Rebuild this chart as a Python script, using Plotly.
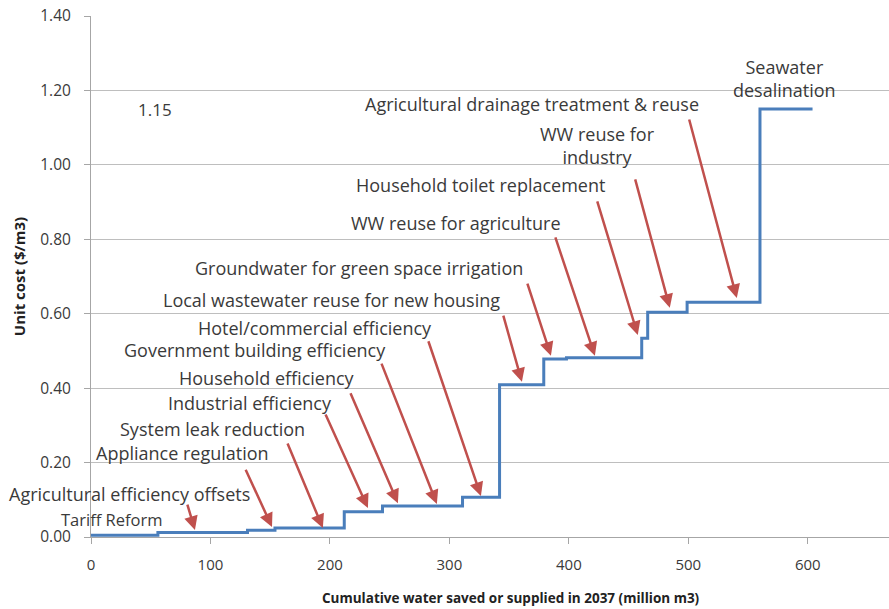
import plotly.graph_objects as go

# Step curve: start of each measure (cumulative million m3) and its unit cost ($/m3)
cum_start = [0, 56, 131, 154, 212, 244, 311, 342, 379, 398, 461, 466, 499, 560, 604]
unit_cost = [0.005, 0.012, 0.018, 0.024, 0.068, 0.083, 0.107, 0.409, 0.478, 0.482, 0.534, 0.604, 0.631, 1.15, 1.15]

x_ticks = [0, 100, 200, 300, 400, 500, 600]
y_ticks = [0.0, 0.2, 0.4, 0.6, 0.8, 1.0, 1.2, 1.4]

# Labels: text, x, y (data units)
label_text = ["Seawater<br>desalination", "1.15", "Agricultural drainage treatment & reuse",
              "WW reuse for<br>industry", "Household toilet replacement", "WW reuse for agriculture",
              "Groundwater for green space irrigation", "Local wastewater reuse for new housing",
              "Hotel/commercial efficiency", "Government building efficiency", "Household efficiency",
              "Industrial efficiency", "System leak reduction", "Appliance regulation",
              "Agricultural efficiency offsets", "Tariff Reform"]
label_x = [580.8, 37.7, 369.0, 424.3, 326.4, 305.4, 224.3, 201.7, 187.4, 137.2, 147.3, 133.1, 101.3, 76.2, 32.0, 17.5]
label_y = [1.231, 1.148, 1.164, 1.051, 0.946, 0.844, 0.723, 0.637, 0.562, 0.503, 0.427, 0.360, 0.290, 0.226, 0.116, 0.048]

# Arrows: tail (x, y) -> head (x, y), data units
arrow_tail_x = [80.3, 128.9, 164.0, 195.8, 216.7, 242.7, 282.0, 344.8, 364.9, 388.3, 423.4, 455.2, 500.4]
arrow_tail_y = [0.091, 0.185, 0.255, 0.333, 0.390, 0.470, 0.530, 0.599, 0.685, 0.809, 0.906, 0.965, 1.126]
arrow_head_x = [87.0, 151.5, 194.1, 231.8, 256.9, 289.5, 326.4, 360.7, 385.0, 421.8, 457.7, 484.5, 540.6]
arrow_head_y = [0.019, 0.027, 0.024, 0.078, 0.091, 0.089, 0.110, 0.417, 0.487, 0.487, 0.543, 0.616, 0.642]

x_title = "Cumulative water saved or supplied in 2037 (million m3)"
y_title = "Unit cost ($/m3)"

FONT = "'Open Sans', sans-serif"
TXT = "#3a3a3a"

fig = go.Figure()
fig.add_trace(go.Scatter(
    x=cum_start, y=unit_cost, mode="lines", line_shape="hv",
    line=dict(color="#4A7EBB", width=3), hoverinfo="x+y", showlegend=False,
))

annotations = []
for t, x, y in zip(label_text, label_x, label_y):
    size = 18
    if t == "1.15":
        size = 17
    elif t == "Tariff Reform":
        size = 16.5
    annotations.append(dict(
        text=t, x=x, y=y, xref="x", yref="y", showarrow=False,
        xanchor="left" if t == "1.15" else "center", yanchor="middle",
        font=dict(family=FONT, size=size, color=TXT),
    ))
for tx, ty, hx, hy in zip(arrow_tail_x, arrow_tail_y, arrow_head_x, arrow_head_y):
    annotations.append(dict(
        text="", x=hx, y=hy, xref="x", yref="y", ax=tx, ay=ty, axref="x", ayref="y",
        showarrow=True, arrowhead=2, arrowsize=1.1, arrowwidth=2.5, arrowcolor="#C0504D",
        standoff=0,
    ))
# x-axis title (centred on the original, wider plot area)
annotations.append(dict(
    text=f"<b>{x_title}</b>", xref="paper", yref="paper", x=0.526, y=-0.117,
    xanchor="center", yanchor="middle", showarrow=False,
    font=dict(family=FONT, size=13.5, color="#222"),
))

fig.update_layout(
    width=889, height=609,
    margin=dict(l=91, r=0, t=16, b=72),
    paper_bgcolor="white", plot_bgcolor="white",
    font=dict(family=FONT, size=15, color=TXT),
    annotations=annotations,
    xaxis=dict(
        range=[0, 668], tickmode="array", tickvals=x_ticks, ticktext=[str(v) for v in x_ticks],
        showgrid=False, zeroline=False, showline=True, linecolor="#A6A6A6", linewidth=1,
        ticks="outside", ticklen=6, tickcolor="#A6A6A6", automargin=False,
        tickfont=dict(family=FONT, size=15, color=TXT), ticklabelstandoff=8,
    ),
    yaxis=dict(
        range=[0, 1.4], tickmode="array", tickvals=y_ticks, ticktext=[f"{v:.2f}" for v in y_ticks],
        showgrid=True, gridcolor="#BEBEBE", gridwidth=1, zeroline=False,
        showline=True, linecolor="#A6A6A6", linewidth=1,
        ticks="outside", ticklen=6, tickcolor="#A6A6A6", automargin=False,
        tickfont=dict(family=FONT, size=15.5, color=TXT), ticklabelstandoff=10,
        title=dict(text=f"<b>{y_title}</b>", font=dict(family=FONT, size=15, color="#222"), standoff=10),
    ),
)

# remove the page's default body margin so the figure sits at the window's corner
fig.write_html("out.html", config={"displayModeBar": False},
               post_script="document.body.style.margin='0';")
